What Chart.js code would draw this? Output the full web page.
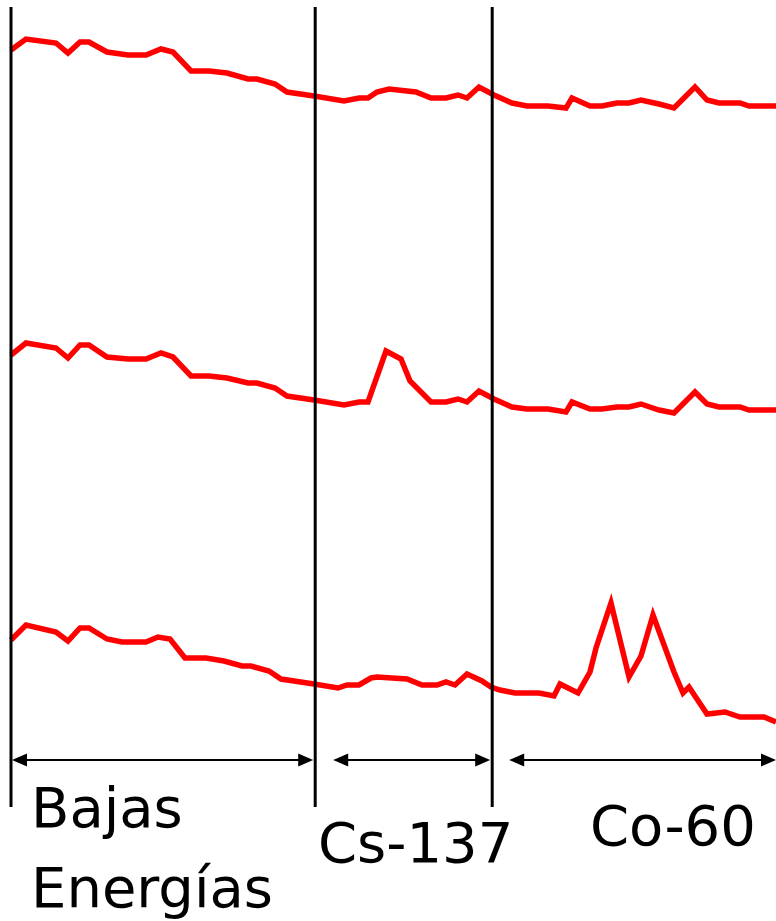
<!DOCTYPE html>
<html>
<head>
<meta charset="utf-8">
<script src="https://cdn.jsdelivr.net/npm/chart.js@4.4.0/dist/chart.umd.min.js"></script>
<style>
    body { margin: 0; background: #ffffff; }
    canvas { display: block; }
</style>
</head>
<body>
<canvas id="spectraChart" width="776" height="921"></canvas>
<script>
var canales_fondo = [0, 5, 15, 19, 23, 26, 32, 39, 45, 50, 54, 60, 66, 72, 79, 82, 88, 92, 101, 111, 116, 119, 122, 126, 135, 140, 145, 149, 152, 156, 161, 167, 172, 179, 185, 187, 193, 197, 202, 206, 210, 216, 221, 228, 232, 236, 243, 246, 255];
var cuentas_fondo = [254, 265, 261, 251, 262, 262, 252, 249, 249, 255, 252, 233, 233, 231, 225, 225, 220, 212, 208, 203, 206, 206, 212, 215, 212, 206, 206, 209, 206, 217, 209, 201, 198, 198, 196, 206, 198, 198, 201, 201, 204, 200, 196, 217, 204, 201, 201, 198, 198];

var canales_cs = [0, 5, 15, 19, 23, 26, 32, 39, 45, 50, 54, 60, 66, 72, 79, 82, 88, 92, 101, 111, 116, 119, 125, 130, 133, 140, 145, 149, 152, 156, 161, 167, 172, 179, 185, 187, 193, 197, 202, 206, 210, 216, 221, 228, 232, 236, 243, 246, 255];
var cuentas_cs = [249, 261, 256, 246, 259, 259, 247, 245, 245, 251, 247, 228, 228, 226, 221, 221, 216, 208, 204, 199, 202, 202, 253, 245, 223, 202, 202, 205, 202, 213, 205, 197, 195, 195, 192, 202, 195, 195, 197, 197, 200, 194, 191, 212, 200, 197, 197, 194, 194];

var canales_co = [0, 5, 15, 19, 23, 26, 32, 37, 45, 49, 53, 58, 65, 71, 77, 80, 86, 90, 101, 109, 112, 116, 120, 122, 132, 137, 142, 145, 148, 152, 157, 160, 163, 168, 176, 181, 183, 189, 193, 195, 200, 206, 210, 214, 221, 224, 226, 232, 238, 243, 251, 255];
var cuentas_co = [264, 279, 272, 263, 276, 276, 265, 262, 262, 267, 265, 246, 246, 243, 238, 238, 233, 225, 220, 216, 219, 219, 226, 227, 225, 219, 219, 222, 219, 230, 223, 217, 214, 211, 211, 208, 220, 211, 232, 256, 301, 227, 248, 289, 232, 211, 217, 190, 192, 187, 187, 182];

// limites de las ventanas de energia (en canales) y sus nombres
var limites_ventanas = [0, 101.4, 160.4, 255];
var nombres_ventanas = [['Bajas', 'Energías'], ['Cs-137'], ['Co-60']];

function toPoints(xs, ys) {
    var points = [];
    for (var i = 0; i < xs.length; i++) {
        points.push({ x: xs[i], y: ys[i] });
    }
    return points;
}

function drawArrow(ctx, x1, x2, y) {
    var head = 15;
    var half = 6.5;
    ctx.beginPath();
    ctx.moveTo(x1 + head - 2, y);
    ctx.lineTo(x2 - head + 2, y);
    ctx.stroke();
    ctx.beginPath();
    ctx.moveTo(x1, y);
    ctx.lineTo(x1 + head, y - half);
    ctx.lineTo(x1 + head, y + half);
    ctx.closePath();
    ctx.fill();
    ctx.beginPath();
    ctx.moveTo(x2, y);
    ctx.lineTo(x2 - head, y - half);
    ctx.lineTo(x2 - head, y + half);
    ctx.closePath();
    ctx.fill();
}

var ventanasPlugin = {
    id: 'ventanas',
    afterDraw: function (chart) {
        var ctx = chart.ctx;
        var xScale = chart.scales.x;
        var px = limites_ventanas.map(function (v) { return xScale.getPixelForValue(v); });

        ctx.save();
        ctx.strokeStyle = '#000000';
        ctx.fillStyle = '#000000';

        // separadores verticales
        ctx.lineWidth = 3;
        for (var i = 0; i < 3; i++) {
            ctx.beginPath();
            ctx.moveTo(px[i], 7);
            ctx.lineTo(px[i], 807);
            ctx.stroke();
        }

        // flechas de cada ventana
        ctx.lineWidth = 2;
        var insets = [[1, 2], [18, 2], [17, 0]];
        for (var j = 0; j < 3; j++) {
            drawArrow(ctx, px[j] + insets[j][0], px[j + 1] - insets[j][1], 760);
        }

        // textos
        ctx.font = '56px "DejaVu Sans"';
        ctx.textBaseline = 'alphabetic';
        ctx.textAlign = 'left';
        ctx.fillText(nombres_ventanas[0][0], 31, 827);
        ctx.fillText(nombres_ventanas[0][1], 31, 907);
        ctx.fillText(nombres_ventanas[1][0], 318, 862);
        ctx.fillText(nombres_ventanas[2][0], 590, 845);
        ctx.restore();
    }
};

var context = document.getElementById('spectraChart').getContext('2d');
var spectraChart = new Chart(context, {
    type: 'line',
    data: {
        datasets: [{
            label: 'Fondo',
            data: toPoints(canales_fondo, cuentas_fondo),
            yAxisID: 'y1'
        }, {
            label: 'Cs-137',
            data: toPoints(canales_cs, cuentas_cs),
            yAxisID: 'y2'
        }, {
            label: 'Co-60',
            data: toPoints(canales_co, cuentas_co),
            yAxisID: 'y3'
        }]
    },
    options: {
        responsive: false,
        animation: false,
        layout: {
            padding: { left: 11, right: 0, top: 4, bottom: 17 }
        },
        elements: {
            line: { borderColor: '#ff0000', borderWidth: 5.5, tension: 0 },
            point: { radius: 0, hoverRadius: 0 }
        },
        datasets: {
            line: { clip: false }
        },
        plugins: {
            legend: { display: false },
            tooltip: { enabled: false }
        },
        scales: {
            x: { type: 'linear', min: 0, max: 255, display: false },
            y1: { position: 'right', stack: 'espectros', stackWeight: 1, min: 0, max: 300, display: false },
            y2: { position: 'right', stack: 'espectros', stackWeight: 1, min: 0, max: 300, display: false },
            y3: { position: 'right', stack: 'espectros', stackWeight: 1, min: 0, max: 300, display: false }
        }
    },
    plugins: [ventanasPlugin]
});
</script>
</body>
</html>
